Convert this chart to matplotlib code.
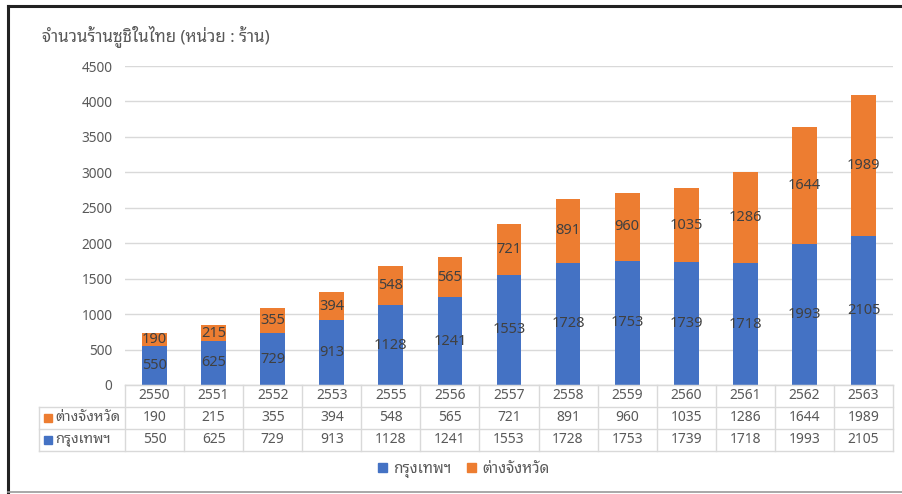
import matplotlib
matplotlib.use('Agg')
from matplotlib import pyplot as plt
from matplotlib.lines import Line2D
from matplotlib.patches import Rectangle

plt.rcParams['font.family'] = ['Noto Sans Thai Looped', 'DejaVu Sans']

years = ['2550', '2551', '2552', '2553', '2555', '2556', '2557',
         '2558', '2559', '2560', '2561', '2562', '2563']
bangkok = [550, 625, 729, 913, 1128, 1241, 1553, 1728, 1753, 1739, 1718, 1993, 2105]
province = [190, 215, 355, 394, 548, 565, 721, 891, 960, 1035, 1286, 1644, 1989]
name_bkk = 'กรุงเทพฯ'
name_prov = 'ต่างจังหวัด'
title = 'จำนวนร้านซูชิในไทย (หน่วย : ร้าน)'

BLUE = '#4472C4'
ORANGE = '#ED7D31'
GRID = '#d9d9d9'
TXT = '#595959'

W, H = 903, 494
fig = plt.figure(figsize=(W / 100, H / 100), dpi=100)


def fx(px):
    return px / W


def fy(py):
    return 1 - py / H


# plot area in pixels
L, R, T, B = 125, 893, 66, 385
ax = fig.add_axes([fx(L), fy(B), fx(R) - fx(L), fy(T) - fy(B)])

xs = list(range(len(years)))
b1 = ax.bar(xs, bangkok, width=0.42, color=BLUE, label=name_bkk)
b2 = ax.bar(xs, province, width=0.42, bottom=bangkok, color=ORANGE, label=name_prov)
ax.bar_label(b1, label_type='center', color='#404040', fontsize=10.5)
ax.bar_label(b2, label_type='center', color='#404040', fontsize=10.5)

ax.set_xlim(-0.5, len(years) - 0.5)
ax.set_ylim(0, 4500)
ax.set_yticks(range(0, 4501, 500))
ax.yaxis.grid(True, color=GRID, linewidth=1)
ax.set_axisbelow(True)
ax.set_xticks([])
for s in ['top', 'right', 'left']:
    ax.spines[s].set_visible(False)
ax.spines['bottom'].set_color(GRID)
ax.tick_params(axis='y', length=0, pad=9, labelsize=9.8, labelcolor=TXT)

# data table under the axis
cw = (R - L) / len(years)
rows_y = [B, 406.5, 428.5, 450.5]
lab_l = 39
for i in range(len(years) + 1):
    x = L + i * cw
    fig.add_artist(Line2D([fx(x), fx(x)], [fy(rows_y[0]), fy(rows_y[-1])], color=GRID, lw=1))
fig.add_artist(Line2D([fx(lab_l), fx(lab_l)], [fy(rows_y[1]), fy(rows_y[-1])], color=GRID, lw=1))
for j, y in enumerate(rows_y):
    x0 = L if j == 0 else lab_l
    fig.add_artist(Line2D([fx(x0), fx(R)], [fy(y), fy(y)], color=GRID, lw=1))

rows = [years, province, bangkok]
for j, vals in enumerate(rows):
    yc = (rows_y[j] + rows_y[j + 1]) / 2
    for i, v in enumerate(vals):
        fig.text(fx(L + (i + 0.5) * cw), fy(yc), str(v), ha='center', va='center',
                 fontsize=10, color=TXT)

for j, (name, c) in enumerate([(name_prov, ORANGE), (name_bkk, BLUE)]):
    yc = (rows_y[j + 1] + rows_y[j + 2]) / 2
    fig.add_artist(Rectangle((fx(44), fy(yc + 4)), fx(8), fy(0) - fy(8), color=c))
    fig.text(fx(55), fy(yc), name, ha='left', va='center', fontsize=10.6, color=TXT)

# legend
fig.legend(handles=[Rectangle((0, 0), 1, 1, color=BLUE), Rectangle((0, 0), 1, 1, color=ORANGE)],
           labels=[name_bkk, name_prov], loc='center', bbox_to_anchor=(fx(464), fy(470)),
           ncol=2, frameon=False, fontsize=11, handlelength=0.6, handleheight=0.6,
           handletextpad=0.4, columnspacing=1.0, labelcolor=TXT)

fig.text(fx(42), fy(37), title, ha='left', va='center', fontsize=12.2, color=TXT)

# outer frame
fig.add_artist(Line2D([fx(8), 1], [fy(6), fy(6)], color='#222222', lw=2.2))
fig.add_artist(Line2D([fx(8), fx(8)], [fy(6), fy(492)], color='#222222', lw=2.2))
fig.add_artist(Line2D([fx(8), 1], [fy(492), fy(492)], color='#999999', lw=1.2))

fig.savefig('out.png', dpi=100, facecolor='white')
